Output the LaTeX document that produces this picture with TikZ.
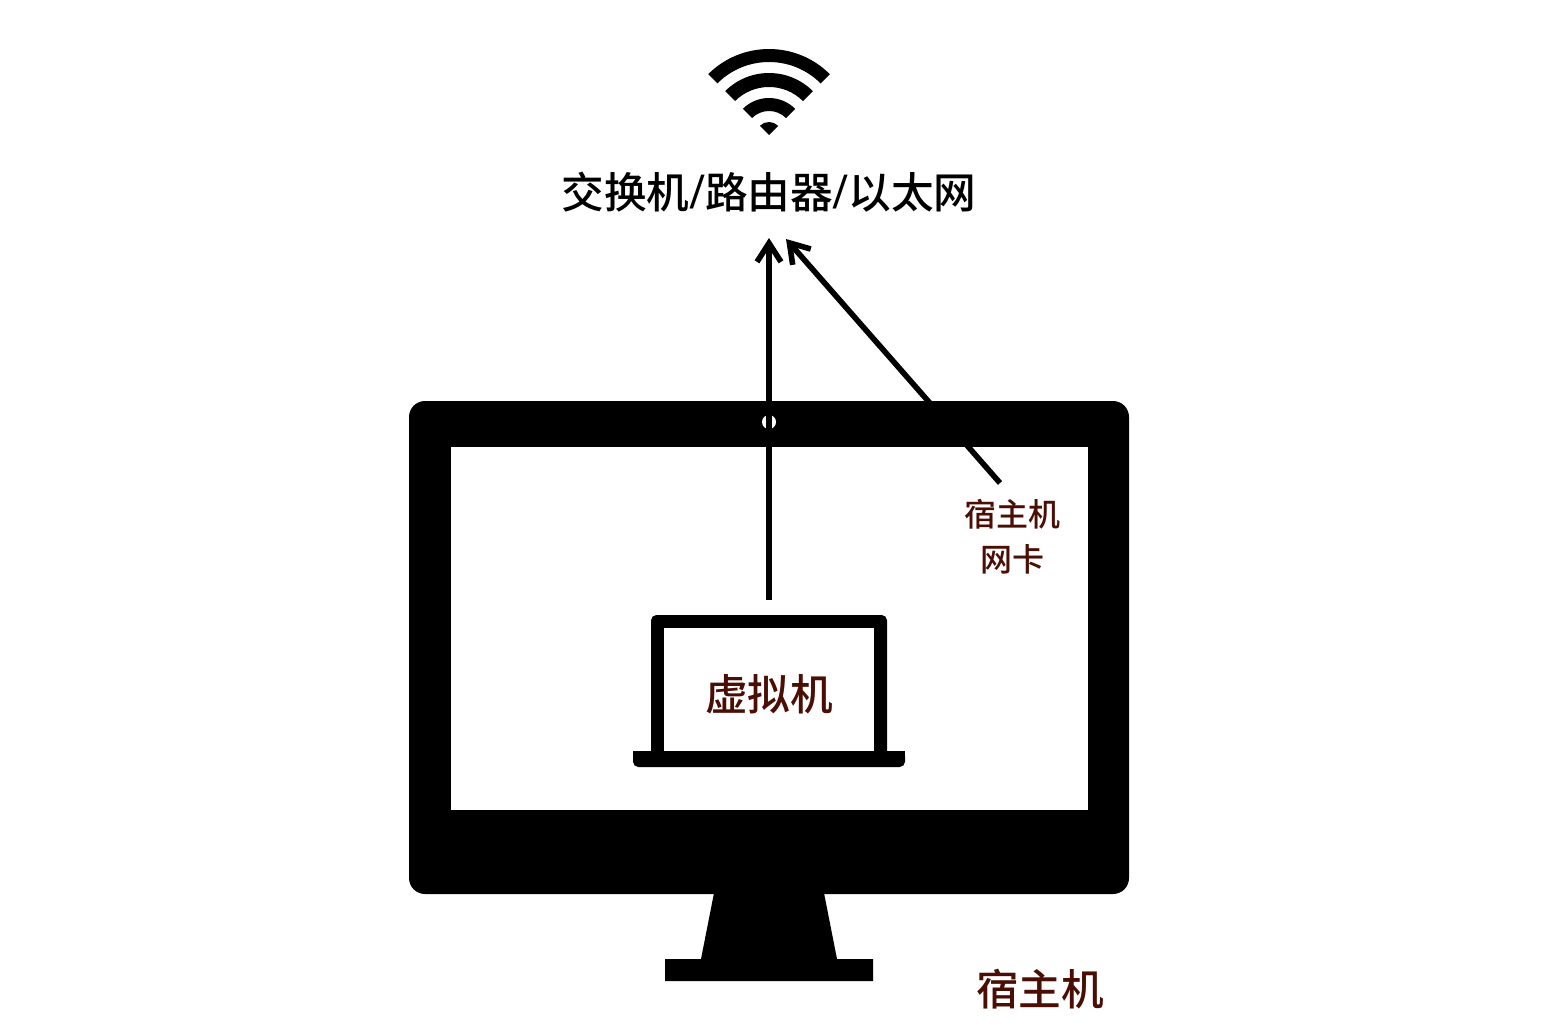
\documentclass[tikz,border=0pt]{standalone}
\usepackage{fontspec}
\setmainfont{Noto Sans CJK SC}[UprightFont=* Medium,BoldFont=* Medium]
\newfontfamily\latinserif{Liberation Serif}
\usetikzlibrary{arrows.meta}
\definecolor{darkred}{HTML}{4A0E04}
\newcommand{\slashmark}{\hspace{0.5pt}{\latinserif\fontsize{38}{38}\selectfont\bfseries/}\hspace{0.5pt}}
\tikzset{
  bigcn/.style={font=\fontsize{32}{36}\selectfont, inner sep=0pt},
  smallcn/.style={font=\fontsize{24}{33.75}\selectfont, inner sep=0pt, align=center, text=darkred},
  link/.style={line width=3.9pt, -{Straight Barb[length=14pt,width=18pt,line width=4.2pt]}}
}
\begin{document}
\begin{tikzpicture}[x=0.75pt,y=-0.75pt]
\useasboundingbox (0,0) rectangle (1548,1032);
% wifi
\begin{scope}[shift={(769,135)},yscale=-1]
  \fill (45:86) arc[start angle=45,end angle=135,radius=86] -- (135:73) arc[start angle=135,end angle=45,radius=73] -- cycle;
  \fill (45:62) arc[start angle=45,end angle=135,radius=62] -- (135:48) arc[start angle=135,end angle=45,radius=48] -- cycle;
  \fill (45:37) arc[start angle=45,end angle=135,radius=37] -- (135:24) arc[start angle=135,end angle=45,radius=24] -- cycle;
  \fill (45:13) arc[start angle=45,end angle=135,radius=13] -- (0,0) -- cycle;
\end{scope}
% monitor
\fill[rounded corners=12pt] (409,401) rectangle (1129,894);
\fill (714,893) -- (701,959) -- (665,959) -- (665,981) -- (873,981) -- (873,959) -- (837,959) -- (824,893) -- cycle;
\fill[white] (451,447) rectangle (1088,810);
\fill[white] (769,422) circle[radius=7];
% laptop
\fill[rounded corners=4pt] (651,760) -- (651,615) -- (887,615) -- (887,760) -- cycle;
\fill[white] (664,628) rectangle (874,755);
\fill[rounded corners=4pt] (633,751) -- (905,751) -- (905,767) -- (633,767) -- cycle;
\fill (633,751) rectangle (905,758);
% labels
\node[bigcn] (net) at (769,192) {交换机\slashmark 路由器\slashmark 以太网};
\node[bigcn,text=darkred] (vm) at (769,694) {虚拟机};
\node[bigcn,text=darkred] (host) at (1040,989) {宿主机};
\node[smallcn] (nic) at (1012,537) {宿主机\\网卡};
% connectors
\coordinate (vmout) at (769,600);
\coordinate (vmin) at (769,238);
\coordinate (nicout) at (1000,483);
\coordinate (nicin) at (786,239);
\draw[link] (vmout) -- (vmin);
\draw[link,line width=4.2pt] (nicout) -- (nicin);
\end{tikzpicture}
\end{document}
